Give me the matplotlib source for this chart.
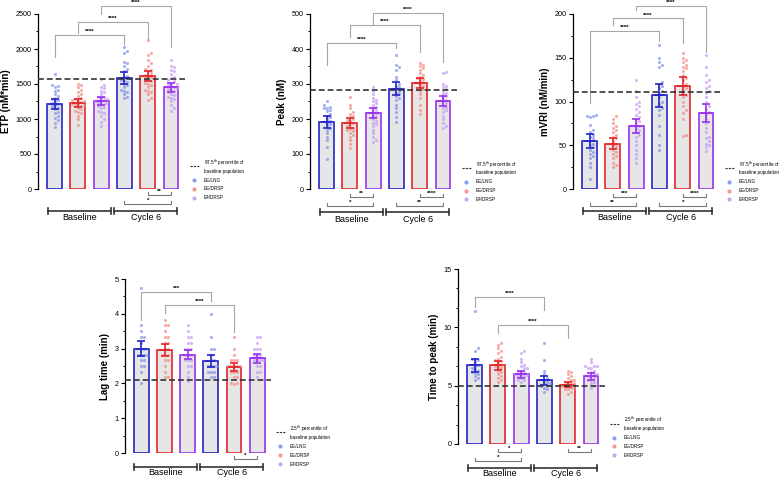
import matplotlib
matplotlib.use("Agg")
import matplotlib.pyplot as plt
from matplotlib.lines import Line2D
from matplotlib.ticker import AutoMinorLocator, MultipleLocator

plt.rcParams['font.family'] = ['Liberation Sans', 'DejaVu Sans']

groups = ['EE/LNG', 'EE/DRSP', 'E4/DRSP']
periods = ['Baseline', 'Cycle 6']

# ETP (nM*min)
etp_mean = [1215, 1230, 1255, 1585, 1615, 1455]
etp_err = [75, 55, 55, 85, 75, 65]
etp_ref = 1565
etp_pts = [
    [1640, 1490, 1470, 1450, 1420, 1400, 1350, 1330, 1300, 1290, 1270, 1250, 1230, 1210, 1200, 1180,
     1160, 1140, 1100, 1080, 1050, 1010, 980, 950, 890],
    [1500, 1480, 1450, 1420, 1380, 1350, 1330, 1300, 1280, 1270, 1260, 1250, 1240, 1230, 1220, 1210,
     1200, 1190, 1180, 1160, 1140, 1120, 1100, 1080, 1050, 1000, 920],
    [1570, 1490, 1460, 1440, 1400, 1380, 1350, 1320, 1310, 1300, 1280, 1270, 1260, 1250, 1240, 1230,
     1220, 1200, 1190, 1170, 1150, 1120, 1100, 1080, 1050, 1000, 960, 900],
    [2030, 1970, 1950, 1820, 1800, 1760, 1720, 1680, 1620, 1600, 1560, 1550, 1530, 1500, 1480, 1450,
     1420, 1400, 1380, 1350, 1320, 1300],
    [2130, 1950, 1920, 1850, 1800, 1760, 1720, 1700, 1680, 1650, 1630, 1620, 1600, 1580, 1560, 1540,
     1520, 1500, 1480, 1450, 1420, 1400, 1380, 1350, 1300, 1270],
    [1840, 1760, 1740, 1700, 1680, 1640, 1600, 1580, 1560, 1540, 1520, 1500, 1480, 1470, 1460, 1440,
     1430, 1420, 1400, 1380, 1360, 1340, 1320, 1300, 1280, 1250, 1200, 1150, 1110],
]

# Peak (nM)
peak_mean = [192, 188, 217, 287, 303, 252]
peak_err = [17, 15, 15, 18, 15, 15]
peak_ref = 282
peak_pts = [
    [252, 240, 235, 232, 230, 225, 222, 215, 210, 205, 200, 195, 190, 185, 180, 175, 170, 160, 150,
     140, 120, 85],
    [262, 240, 230, 220, 215, 210, 205, 200, 198, 195, 190, 185, 180, 175, 172, 168, 165, 160, 155,
     150, 140, 130, 118],
    [290, 280, 270, 260, 255, 250, 245, 240, 235, 230, 225, 220, 215, 210, 205, 200, 195, 190, 185,
     180, 170, 160, 150, 140, 135],
    [383, 355, 348, 340, 320, 310, 300, 295, 290, 285, 280, 275, 270, 265, 260, 255, 240, 230, 220,
     205, 192],
    [360, 355, 350, 345, 340, 330, 325, 320, 318, 315, 310, 305, 300, 295, 290, 285, 280, 270, 260,
     240, 225, 215],
    [335, 330, 300, 295, 290, 285, 280, 275, 270, 265, 260, 255, 250, 245, 240, 235, 230, 225, 220,
     210, 200, 190, 180, 175],
]

# mVRI (nM/min)
mvri_mean = [55, 52, 72, 107, 118, 87]
mvri_err = [8, 6, 8, 13, 10, 10]
mvri_ref = 111
mvri_pts = [
    [85, 84, 83, 82, 73, 68, 65, 62, 60, 58, 55, 52, 50, 48, 45, 42, 40, 38, 35, 30, 25, 12],
    [83, 80, 75, 72, 70, 68, 65, 62, 60, 58, 55, 52, 50, 48, 45, 42, 40, 38, 35, 30, 27, 25],
    [125, 112, 105, 100, 97, 95, 92, 88, 85, 82, 80, 78, 75, 72, 70, 68, 65, 62, 60, 55, 50, 45, 40,
     35, 30],
    [165, 150, 145, 142, 140, 122, 120, 118, 115, 112, 110, 105, 100, 97, 93, 90, 85, 72, 62, 50, 45],
    [155, 150, 147, 145, 142, 140, 138, 135, 130, 127, 125, 120, 118, 115, 112, 108, 105, 100, 95, 90,
     87, 80, 62, 61],
    [153, 140, 130, 125, 122, 118, 115, 112, 110, 105, 100, 95, 92, 88, 85, 80, 75, 70, 65, 60, 58, 55,
     52, 50, 48, 44],
]

# Lag time (min)
lag_mean = [3.0, 2.97, 2.83, 2.65, 2.48, 2.72]
lag_err = [0.22, 0.17, 0.13, 0.17, 0.12, 0.12]
lag_ref = 2.1
lag_pts = [
    [4.75, 3.67, 3.5, 3.33, 3.33, 3.17, 3.0, 3.0, 2.83, 2.83, 2.83, 2.83, 2.67, 2.67, 2.5, 2.5, 2.33, 2.0],
    [3.83, 3.67, 3.67, 3.5, 3.33, 3.33, 3.17, 3.17, 3.0, 3.0, 2.83, 2.83, 2.83, 2.67, 2.67, 2.5, 2.33,
     2.17, 2.17],
    [3.67, 3.5, 3.33, 3.33, 3.17, 3.17, 3.0, 3.0, 3.0, 2.83, 2.83, 2.83, 2.67, 2.67, 2.67, 2.5, 2.5,
     2.33, 2.17, 2.08],
    [4.0, 3.33, 3.0, 3.0, 2.83, 2.67, 2.67, 2.5, 2.5, 2.5, 2.5, 2.33, 2.33, 2.33, 2.17, 2.17],
    [3.33, 3.0, 2.83, 2.67, 2.67, 2.67, 2.5, 2.5, 2.5, 2.5, 2.5, 2.33, 2.33, 2.33, 2.17, 2.17, 2.0, 2.0,
     1.97],
    [3.33, 3.33, 3.17, 3.0, 3.0, 3.0, 2.83, 2.83, 2.83, 2.67, 2.67, 2.67, 2.67, 2.5, 2.5, 2.33, 2.33,
     2.17],
]

# Time to peak (min)
ttp_mean = [6.75, 6.75, 6.0, 5.45, 5.1, 5.8]
ttp_err = [0.55, 0.4, 0.3, 0.4, 0.25, 0.3]
ttp_ref = 5.0
ttp_pts = [
    [11.4, 8.2, 8.0, 7.3, 7.3, 7.2, 7.0, 6.8, 6.7, 6.5, 6.4, 6.3, 6.2, 6.1, 6.0, 5.8, 5.7, 5.5],
    [8.7, 8.5, 8.2, 8.0, 7.8, 7.5, 7.3, 7.2, 7.1, 7.0, 6.8, 6.7, 6.6, 6.5, 6.3, 6.2, 6.0, 5.8, 5.7,
     5.5, 5.3],
    [8.0, 7.8, 7.3, 7.0, 6.8, 6.7, 6.5, 6.5, 6.3, 6.3, 6.2, 6.0, 6.0, 5.9, 5.8, 5.8, 5.7, 5.5, 5.5, 5.3],
    [8.7, 7.2, 6.3, 6.0, 5.7, 5.5, 5.3, 5.2, 5.2, 5.0, 5.0, 4.8, 4.7, 4.5],
    [6.3, 6.2, 6.0, 5.8, 5.7, 5.5, 5.5, 5.3, 5.3, 5.2, 5.2, 5.0, 5.0, 5.0, 4.8, 4.8, 4.7, 4.7, 4.5, 4.3],
    [7.3, 7.0, 6.7, 6.7, 6.7, 6.5, 6.5, 6.3, 6.2, 6.0, 6.0, 5.8, 5.8, 5.7, 5.5, 5.5, 5.3, 5.2, 5.0, 4.8],
]

# comparisons above bars: (bar i, bar j, top, left leg end, right leg end, label)
etp_sig = [(0, 3, 2200, 1886, 2070, '****'), (1, 4, 2386, 2229, 2143, '****'),
           (2, 5, 2614, 2500, 2029, '****')]
peak_sig = [(0, 3, 417, 354, 403, '****'), (1, 4, 469, 434, 391, '****'),
            (2, 5, 503, 471, 363, '****')]
mvri_sig = [(0, 3, 181, 98, 169, '****'), (1, 4, 195, 187, 167, '****'),
            (2, 5, 209, 205, 157, '****')]
lag_sig = [(0, 3, 4.63, 3.82, 4.37, '***'), (1, 4, 4.25, 4.02, 3.48, '****')]
ttp_sig = [(0, 3, 12.6, 11.75, 11.5, '****'), (1, 4, 10.2, 9.5, 9.1, '****')]

# comparisons below bars: (bar i, bar j, row, label)
etp_low = [(4, 5, 0, '**'), (3, 5, 1, '*')]
peak_low = [(1, 2, 0, '**'), (0, 2, 1, '*'), (4, 5, 0, '****'), (3, 5, 1, '**')]
mvri_low = [(1, 2, 0, '***'), (0, 2, 1, '**'), (4, 5, 0, '****'), (3, 5, 1, '*')]
lag_low = [(4, 5, 0, '*')]
ttp_low = [(1, 2, 0, '*'), (0, 2, 1, '*'), (4, 5, 0, '**')]

edge_c = ['#2424C8', '#E2262B', '#9A32EE']
dot_c = ['#7F8FE8', '#F28B80', '#C39AF2']

W, H = 780, 478
fig = plt.figure(figsize=(7.8, 4.78), dpi=100)


def swarm(vals, ppu, d=3.0, xppu=23.3):
    order = sorted(range(len(vals)), key=lambda k: vals[k])
    placed = []
    offs = [0.0] * len(vals)
    for k in order:
        y = vals[k] * ppu
        for n in range(40):
            c = ((n + 1) // 2) * d * (1 if n % 2 else -1)
            if all((c - px) ** 2 + (y - py) ** 2 >= d * d for px, py in placed):
                break
        c = max(-6.5, min(6.5, c))
        placed.append((c, y))
        offs[k] = c / xppu
    return offs


def panel(box, pts, mean, err, ref, ylab, ymax, major, nminor, sig, low, rows, grp, legtxt, legy):
    l, t, w, h = box
    ax = fig.add_axes([l / W, (H - t - h) / H, w / W, h / H])
    ax.set_xlim(-0.71, 5.6)
    ax.set_ylim(0, ymax)
    for s in ['top', 'right', 'bottom']:
        ax.spines[s].set_visible(False)
    ax.spines['left'].set_linewidth(0.9)
    ax.set_xticks([])
    ax.yaxis.set_major_locator(MultipleLocator(major))
    ax.yaxis.set_minor_locator(AutoMinorLocator(nminor))
    ax.tick_params(axis='y', which='major', labelsize=5.2, length=3, width=0.8, pad=1.5)
    ax.tick_params(axis='y', which='minor', length=1.8, width=0.7)
    ax.set_ylabel(ylab, fontsize=7, fontweight='bold', labelpad=3)

    xs = list(range(6))
    ax.bar(xs, mean, width=0.64, color='#E6E6E6', edgecolor=[edge_c[i % 3] for i in xs],
           linewidth=1.2, zorder=1)
    ppu = h / ymax
    for i in xs:
        off = swarm(pts[i], ppu)
        ax.scatter([i + o for o in off], pts[i], s=5, color=dot_c[i % 3], alpha=0.7,
                   linewidths=0, zorder=2)
        ax.errorbar(i, mean[i], yerr=err[i], color=edge_c[i % 3], lw=1.2, capsize=3.2,
                    capthick=1.2, zorder=3)
        ax.plot([i - 0.2, i + 0.2], [mean[i], mean[i]], color=edge_c[i % 3], lw=1.2, zorder=3)
    ax.axhline(ref, color='#333333', ls='--', dashes=(3.5, 1.8), lw=1.2, zorder=4,
               clip_on=False)

    for i, j, top, le, re, lab in sig:
        ax.plot([i, i, j, j], [le, top, top, re], color='#A6A6A6', lw=0.8, clip_on=False)
        ax.annotate(lab, xy=((i + j) / 2, top), xytext=(0, 0.5), textcoords='offset points',
                    ha='center', va='bottom', fontsize=4.5, fontweight='bold', annotation_clip=False)

    tr = ax.get_xaxis_transform()
    leg = 3 / h
    for i, j, r, lab in low:
        y = rows[r]
        ax.plot([i, i, j, j], [y + leg, y, y, y + leg], color='#7A7A7A', lw=0.8,
                transform=tr, clip_on=False)
        ax.text((i + j) / 2, y + 3.5 / h, lab, transform=tr, ha='center', va='center',
                fontsize=4.5, fontweight='bold')

    gy, ly = grp
    for k, (a, b) in enumerate([(-0.3, 2.42), (2.55, 5.27)]):
        ax.plot([a, b], [gy, gy], color='#333333', lw=1.2, transform=tr, clip_on=False)
        for e in (a, b):
            ax.plot([e, e], [gy - 3 / h, gy + 3 / h], color='#333333', lw=1.2, transform=tr,
                    clip_on=False)
        ax.text((a + b) / 2, ly, periods[k], transform=tr, ha='center', va='center', fontsize=6.5)

    handles = [Line2D([], [], color='#333333', ls='--', dashes=(2, 1), lw=0.8)]
    handles += [Line2D([], [], marker='o', ls='', ms=2, color=c, alpha=0.8) for c in dot_c]
    ax.legend(handles, [legtxt] + groups, loc='lower left', bbox_to_anchor=(1.02, legy),
              borderaxespad=0, frameon=False, fontsize=3.3, handlelength=2.0, handletextpad=1.1,
              labelspacing=0.85)
    return ax


top_txt = '97.5$^{th}$ percentile of\nbaseline population'
low_txt = '2.5$^{th}$ percentile of\nbaseline population'

panel((38, 14, 147, 175), etp_pts, etp_mean, etp_err, etp_ref, 'ETP (nM*min)', 2500, 500, 2,
      etp_sig, etp_low, [-0.034, -0.086], (-0.126, -0.16), top_txt, -0.075)
panel((310, 14, 147, 175), peak_pts, peak_mean, peak_err, peak_ref, 'Peak (nM)', 500, 100, 2,
      peak_sig, peak_low, [-0.046, -0.097], (-0.13, -0.175), top_txt, -0.085)
panel((573, 14, 147, 175), mvri_pts, mvri_mean, mvri_err, mvri_ref, 'mVRI (nM/min)', 200, 50, 2,
      mvri_sig, mvri_low, [-0.046, -0.097], (-0.126, -0.165), top_txt, -0.085)
panel((125, 279, 146, 174), lag_pts, lag_mean, lag_err, lag_ref, 'Lag time (min)', 5, 1, 2,
      lag_sig, lag_low, [-0.034, -0.086], (-0.08, -0.11), low_txt, -0.09)
panel((458, 269, 147, 175), ttp_pts, ttp_mean, ttp_err, ttp_ref, 'Time to peak (min)', 15, 5, 3,
      ttp_sig, ttp_low, [-0.046, -0.097], (-0.137, -0.17), low_txt, -0.09)

fig.savefig('out.png', dpi=100)
